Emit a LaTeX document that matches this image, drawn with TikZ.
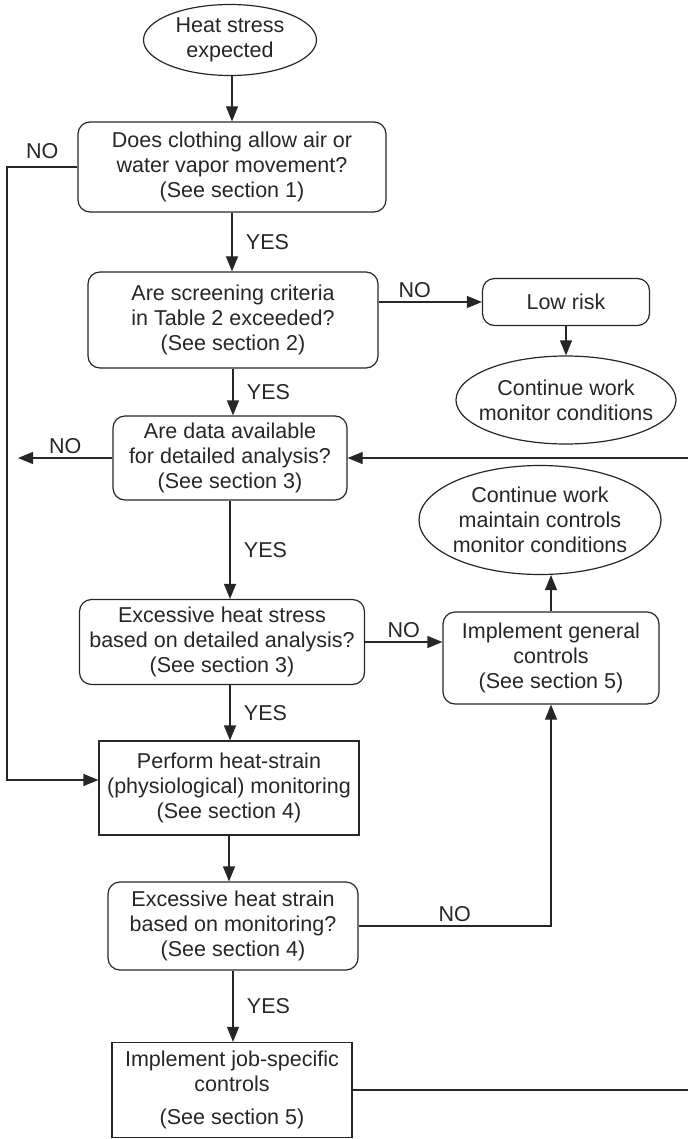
\documentclass[tikz,border=0pt]{standalone}
\usepackage{fontspec}
\setmainfont{Liberation Sans}
\usetikzlibrary{positioning,shapes.geometric,arrows.meta}

\begin{document}
\begin{tikzpicture}[x=1pt, y=-1pt, line width=1.2pt, color=black!85,
    every node/.style={font=\fontsize{21.5}{25}\selectfont},
    qbox/.style={draw, rounded corners=12pt, align=center, inner sep=0pt},
    sbox/.style={draw, align=center, inner sep=0pt},
    oval/.style={draw, ellipse, align=center, inner sep=0pt},
    arr/.style={-{Triangle[length=15pt,width=12pt]}}]
    \useasboundingbox (0,0) rectangle (688,1139);

    \node (hs) at (230,40) [oval, minimum width=173pt, minimum height=71pt] {Heat stress\\expected};
    \node (q1) at (232,167) [qbox, minimum width=308pt, minimum height=90pt] {Does clothing allow air or\\water vapor movement?\\(See section 1)};
    \node (q2) at (233,320) [qbox, minimum width=290pt, minimum height=96pt] {Are screening criteria\\in Table 2 exceeded?\\(See section 2)};
    \node (low) at (566,302) [qbox, minimum width=167pt, minimum height=47pt] {Low risk};
    \node (cw1) at (566,400) [oval, inner xsep=-13pt, minimum width=220pt, minimum height=88pt] {Continue work\\monitor conditions};
    \node (q3) at (230,458) [qbox, minimum width=234pt, minimum height=84pt] {Are data available\\for detailed analysis?\\(See section 3)};
    \node (cw2) at (540,520) [oval, inner xsep=-7pt, minimum width=242pt, minimum height=109pt] {Continue work\\maintain controls\\monitor conditions};
    \node (q4) at (222,642) [qbox, minimum width=285pt, minimum height=85pt] {Excessive heat stress\\based on detailed analysis?\\(See section 3)};
    \node (gen) at (551,658) [qbox, minimum width=216pt, minimum height=92pt] {Implement general\\controls\\(See section 5)};
    \node (mon) at (229,788) [sbox, minimum width=260pt, minimum height=94pt] {Perform heat-strain\\(physiological) monitoring\\(See section 4)};
    \node (q6) at (233,926) [qbox, minimum width=250pt, minimum height=88pt] {Excessive heat strain\\based on monitoring?\\(See section 4)};
    \node (job) at (232,1090) [sbox, minimum width=240pt, minimum height=95pt] {Implement job-specific\\controls\\[8pt](See section 5)};

    \coordinate (lft) at (7,170);
    \coordinate (noend) at (18,458);
    \coordinate (rtop) at (688,458);
    \coordinate (rbot) at (688,1085);

    \draw[arr] (q1.north |- hs.south) -- (q1.north);
    \draw[arr] (q1.south) -- (q1.south |- q2.north) node[midway, right=10pt] {YES};
    \draw[arr] (q2.east |- low.west) -- node[above, pos=0.35] {NO} (low.west);
    \draw[arr] (low) -- (cw1);
    \draw[arr] (q2.south) -- (q2.south |- q3.north) node[midway, right=10pt] {YES};
    \draw[arr] (q3.west) -- node[above] {NO} (noend);
    \draw[arr] (rtop) -- (q3.east);
    \draw[arr] (q3.south) -- (q3.south |- q4.north) node[midway, right=10pt] {YES};
    \draw[arr] (q4.east) -- node[above] {NO} (q4.east -| gen.west);
    \draw[arr] (gen.north) -- (gen.north |- cw2.south);
    \draw[arr] (q3.south |- q4.south) -- (q3.south |- mon.north) node[midway, right=10pt] {YES};
    \draw[arr] (q1.west) -- node[above=4pt] {NO} (q1.west -| lft) |- ([yshift=8pt]mon.west);
    \draw[arr] (mon.south) -- (mon.south |- q6.north);
    \draw[arr] (q6.east) -| node[above, pos=0.25] {NO} (gen.south);
    \draw[arr] (q6.south) -- (q6.south |- job.north) node[midway, right=10pt] {YES};
    \draw (job.east) -- (job.east -| rbot);
\end{tikzpicture}
\end{document}
